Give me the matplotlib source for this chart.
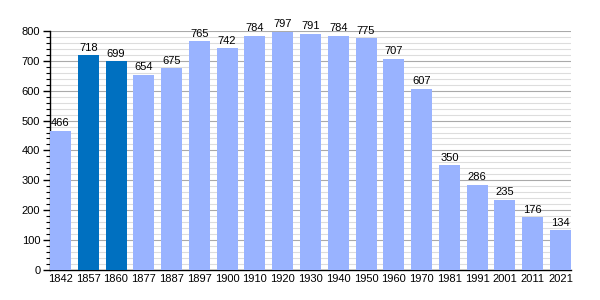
import numpy as np
import matplotlib
matplotlib.use("Agg")
import matplotlib.pyplot as plt
from matplotlib.ticker import MultipleLocator

years = ["1842", "1857", "1860", "1877", "1887", "1897", "1900", "1910", "1920", "1930",
         "1940", "1950", "1960", "1970", "1981", "1991", "2001", "2011", "2021"]
population = [466, 718, 699, 654, 675, 765, 742, 784, 797, 791,
              784, 775, 707, 607, 350, 286, 235, 176, 134]
highlight = ["1857", "1860"]

light = "#99b3ff"
dark = "#0070c0"
colors = [dark if y in highlight else light for y in years]

fig = plt.figure(figsize=(6, 3), dpi=100)
ax = fig.add_axes([0.0833, 0.1, 0.8683, 0.797])

# bars flush with both ends of the axis
w = 0.755
x = np.arange(len(years))
ax.bar(x, population, width=w, color=colors, zorder=3)

for xi, v in zip(x, population):
    ax.text(xi, v + 8, str(v), ha="center", va="bottom", fontsize=8,
            family="Liberation Sans", zorder=4)

ax.set_xlim(-w / 2, len(years) - 1 + w / 2)
ax.set_ylim(0, 800)
ax.set_xticks(x)
ax.set_xticklabels(years, fontsize=8, family="Liberation Sans")
ax.yaxis.set_major_locator(MultipleLocator(100))
ax.yaxis.set_minor_locator(MultipleLocator(20))
for lab in ax.get_yticklabels():
    lab.set_fontsize(8)
    lab.set_family("Liberation Sans")

ax.grid(axis="y", which="major", color="#aaaaaa", linewidth=0.8, zorder=0)
ax.grid(axis="y", which="minor", color="#dddddd", linewidth=0.8, zorder=0)
ax.tick_params(axis="x", length=0, pad=3)
ax.tick_params(axis="y", which="major", length=5, width=1, pad=2)
ax.tick_params(axis="y", which="minor", length=3, width=0.8)

for s in ["top", "right"]:
    ax.spines[s].set_visible(False)
ax.spines["left"].set_linewidth(1)
ax.spines["bottom"].set_linewidth(1)

plt.savefig("out.png", dpi=100)
